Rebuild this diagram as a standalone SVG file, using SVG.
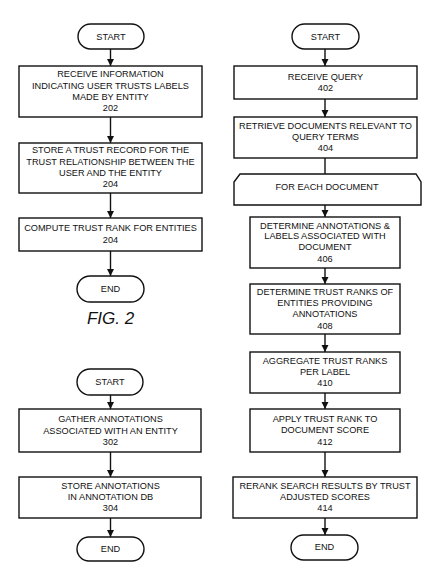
<svg xmlns="http://www.w3.org/2000/svg" width="427" height="562" viewBox="0 0 427 562">
<defs>
<marker id="ah" markerUnits="userSpaceOnUse" markerWidth="7" markerHeight="8" refX="7" refY="3.5" orient="auto">
<path d="M0,0 L7,3.5 L0,7 z" fill="#111"/>
</marker>
<style>
.b{fill:#fff;stroke:#111;stroke-width:1.4}
.t{font-family:"Liberation Sans",Arial,sans-serif;font-size:9.2px;fill:#111;text-anchor:middle}
.c line{stroke:#111;stroke-width:1.4}
.c .a{marker-end:url(#ah)}
.f{font-family:"Liberation Sans",Arial,sans-serif;font-size:17px;font-style:italic;fill:#111;text-anchor:middle}
</style>
</defs>
<rect width="427" height="562" fill="#fff"/>
<g class="c" id="connectors">
<line class="a" x1="110.5" y1="49" x2="110.5" y2="66"/>
<line class="a" x1="110.5" y1="117" x2="110.5" y2="143"/>
<line class="a" x1="110.5" y1="193" x2="110.5" y2="218"/>
<line class="a" x1="110.5" y1="251" x2="110.5" y2="276"/>
<line class="a" x1="110.5" y1="395" x2="110.5" y2="409"/>
<line class="a" x1="110.5" y1="452" x2="110.5" y2="477"/>
<line class="a" x1="110.5" y1="518" x2="110.5" y2="537"/>
<line class="a" x1="325" y1="49" x2="325" y2="66"/>
<line class="a" x1="325" y1="99" x2="325" y2="117"/>
<line x1="325" y1="158" x2="325" y2="174"/>
<line class="a" x1="325" y1="205" x2="325" y2="217"/>
<line class="a" x1="325" y1="268" x2="325" y2="284"/>
<line class="a" x1="325" y1="334" x2="325" y2="352"/>
<line class="a" x1="325" y1="393" x2="325" y2="409"/>
<line class="a" x1="325" y1="452" x2="325" y2="477"/>
<line class="a" x1="325" y1="518" x2="325" y2="535"/>
</g>
<g id="start2">
<rect class="b" x="78" y="24" width="66" height="25" rx="12.5"/>
<text class="t" x="111" y="40.3">START</text>
</g>
<g id="n202">
<rect class="b" x="19" y="66" width="183" height="51"/>
<text class="t" x="110.5" y="77.3">RECEIVE INFORMATION</text>
<text class="t" x="110.5" y="88.8">INDICATING USER TRUSTS LABELS</text>
<text class="t" x="110.5" y="99.8">MADE BY ENTITY</text>
<text class="t" x="110.5" y="110.8">202</text>
</g>
<g id="n204a">
<rect class="b" x="19" y="143" width="183" height="50"/>
<text class="t" x="110.5" y="153.3">STORE A TRUST RECORD FOR THE</text>
<text class="t" x="110.5" y="165.3">TRUST RELATIONSHIP BETWEEN THE</text>
<text class="t" x="110.5" y="176.3">USER AND THE ENTITY</text>
<text class="t" x="110.5" y="187.3">204</text>
</g>
<g id="n204b">
<rect class="b" x="19" y="218" width="183" height="33"/>
<text class="t" x="110.5" y="231.3">COMPUTE TRUST RANK FOR ENTITIES</text>
<text class="t" x="110.5" y="243.3">204</text>
</g>
<g id="end2">
<rect class="b" x="77" y="276" width="67" height="26" rx="13"/>
<text class="t" x="110.5" y="292.3">END</text>
</g>
<text class="f" x="110.5" y="324">FIG. 2</text>
<g id="start3">
<rect class="b" x="77" y="369" width="66" height="26" rx="13"/>
<text class="t" x="110" y="385.3">START</text>
</g>
<g id="n302">
<rect class="b" x="19" y="409" width="182" height="43"/>
<text class="t" x="110.5" y="422.3">GATHER ANNOTATIONS</text>
<text class="t" x="110.5" y="434.3">ASSOCIATED WITH AN ENTITY</text>
<text class="t" x="110.5" y="445.3">302</text>
</g>
<g id="n304">
<rect class="b" x="19" y="477" width="182" height="41"/>
<text class="t" x="110.5" y="489.3">STORE ANNOTATIONS</text>
<text class="t" x="110.5" y="500.3">IN ANNOTATION DB</text>
<text class="t" x="110.5" y="511.3">304</text>
</g>
<g id="end3">
<rect class="b" x="77" y="537" width="67" height="24" rx="12"/>
<text class="t" x="110.5" y="552.3">END</text>
</g>
<g id="start4">
<rect class="b" x="292" y="24" width="67" height="25" rx="12.5"/>
<text class="t" x="325.5" y="40.3">START</text>
</g>
<g id="n402">
<rect class="b" x="234" y="66" width="183" height="33"/>
<text class="t" x="325.5" y="80.3">RECEIVE QUERY</text>
<text class="t" x="325.5" y="91.3">402</text>
</g>
<g id="n404">
<rect class="b" x="234" y="117" width="183" height="41"/>
<text class="t" x="325.5" y="129.3">RETRIEVE DOCUMENTS RELEVANT TO</text>
<text class="t" x="325.5" y="140.3">QUERY TERMS</text>
<text class="t" x="325.5" y="151.3">404</text>
</g>
<g id="loop">
<path class="b" d="M234,182 L240,174 L416,174 L421,182 L421,205 L234,205 Z"/>
<text class="t" x="327" y="190.3">FOR EACH DOCUMENT</text>
</g>
<g id="n406">
<rect class="b" x="250" y="217" width="150" height="51"/>
<text class="t" x="325" y="229.3">DETERMINE ANNOTATIONS &amp;</text>
<text class="t" x="325" y="239.3">LABELS ASSOCIATED WITH</text>
<text class="t" x="325" y="250.3">DOCUMENT</text>
<text class="t" x="325" y="262.3">406</text>
</g>
<g id="n408">
<rect class="b" x="250" y="284" width="150" height="50"/>
<text class="t" x="325" y="295.3">DETERMINE TRUST RANKS OF</text>
<text class="t" x="325" y="306.3">ENTITIES PROVIDING</text>
<text class="t" x="325" y="317.3">ANNOTATIONS</text>
<text class="t" x="325" y="329.3">408</text>
</g>
<g id="n410">
<rect class="b" x="250" y="352" width="150" height="41"/>
<text class="t" x="325" y="364.3">AGGREGATE TRUST RANKS</text>
<text class="t" x="325" y="375.3">PER LABEL</text>
<text class="t" x="325" y="386.3">410</text>
</g>
<g id="n412">
<rect class="b" x="250" y="409" width="150" height="43"/>
<text class="t" x="325" y="422.3">APPLY TRUST RANK TO</text>
<text class="t" x="325" y="433.3">DOCUMENT SCORE</text>
<text class="t" x="325" y="445.3">412</text>
</g>
<g id="n414">
<rect class="b" x="233" y="477" width="184" height="41"/>
<text class="t" x="325" y="489.3">RERANK SEARCH RESULTS BY TRUST</text>
<text class="t" x="325" y="500.3">ADJUSTED SCORES</text>
<text class="t" x="325" y="511.3">414</text>
</g>
<g id="end4">
<rect class="b" x="291" y="535" width="67" height="25" rx="12.5"/>
<text class="t" x="324.5" y="550.3">END</text>
</g>
</svg>
